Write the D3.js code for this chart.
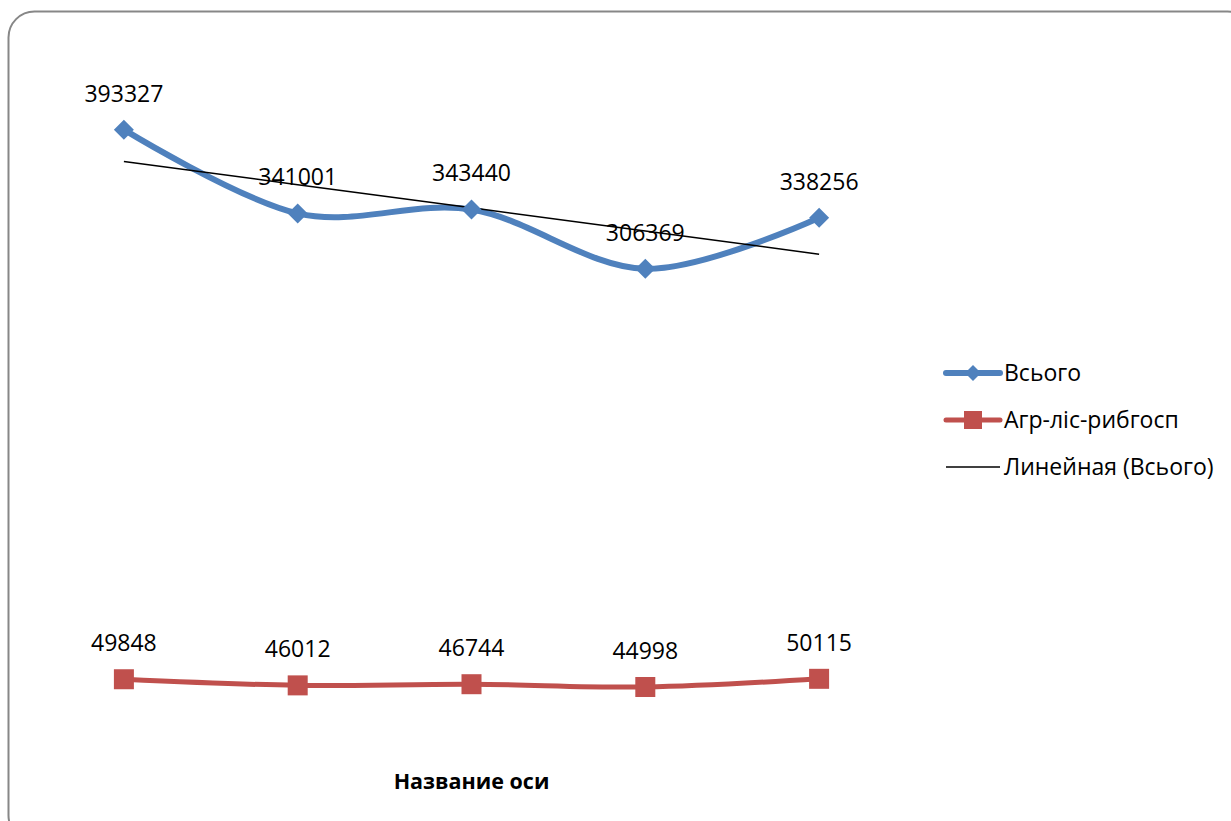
<!DOCTYPE html>
<html>
<head>
<meta charset="utf-8">
<script src="https://cdn.jsdelivr.net/npm/d3@7"></script>
<style>
  body { margin: 0; background: #fff; }
  svg { display: block; font-family: "Open Sans", sans-serif; }
</style>
</head>
<body>
<svg width="1231" height="821"></svg>
<script>
  const categories = ['1', '2', '3', '4', '5'];
  const totalValues = [393327, 341001, 343440, 306369, 338256];
  const agroValues = [49848, 46012, 46744, 44998, 50115];
  const seriesNames = ['Всього', 'Агр-ліс-рибгосп', 'Линейная (Всього)'];
  const axisTitle = 'Название оси';

  const svg = d3.select('svg');
  const width = +svg.attr('width');
  const height = +svg.attr('height');

  // chart frame
  svg.append('rect')
    .attr('x', 8.5)
    .attr('y', 11.5)
    .attr('width', 1245)
    .attr('height', 830)
    .attr('rx', 26)
    .attr('fill', '#fff')
    .attr('stroke', '#878787')
    .attr('stroke-width', 2);

  const plot = { left: 37, right: 906, top: 119, bottom: 759 };

  const xScale = d3.scalePoint()
    .domain(categories)
    .range([plot.left, plot.right])
    .padding(0.5);

  const yScale = d3.scaleLinear()
    .domain([0, 400000])
    .range([plot.bottom, plot.top]);

  const g = svg.append('g');

  const smooth = d3.line()
    .x((d, i) => xScale(categories[i]))
    .y(d => yScale(d))
    .curve(d3.curveCardinal.tension(0));

  // linear trend for "Всього"
  const xs = totalValues.map((d, i) => i + 1);
  const meanX = d3.mean(xs);
  const meanY = d3.mean(totalValues);
  const slope = d3.sum(xs, (x, i) => (x - meanX) * (totalValues[i] - meanY)) /
    d3.sum(xs, x => (x - meanX) * (x - meanX));
  const intercept = meanY - slope * meanX;
  const trend = xs.map(x => intercept + slope * x);

  const series = [
    { name: seriesNames[0], values: totalValues, color: '#4F81BD', marker: 'diamond' },
    { name: seriesNames[1], values: agroValues, color: '#C0504D', marker: 'square' }
  ];

  series.forEach(s => {
    g.append('path')
      .attr('d', smooth(s.values))
      .attr('fill', 'none')
      .attr('stroke', s.color)
      .attr('stroke-width', s.marker === 'diamond' ? 6 : 5)
      .attr('stroke-linecap', 'round');
  });

  g.append('path')
    .attr('d', d3.line()
      .x((d, i) => xScale(categories[i]))
      .y(d => yScale(d))(trend))
    .attr('fill', 'none')
    .attr('stroke', '#000')
    .attr('stroke-width', 1.5);

  const drawMarker = (sel, type, color) => {
    if (type === 'diamond') {
      sel.append('path')
        .attr('d', 'M0,-10L10,0L0,10L-10,0Z')
        .attr('fill', color);
    } else {
      sel.append('rect')
        .attr('x', -10).attr('y', -10)
        .attr('width', 20).attr('height', 20)
        .attr('fill', color);
    }
  };

  series.forEach(s => {
    s.values.forEach((v, i) => {
      const m = g.append('g')
        .attr('transform', `translate(${xScale(categories[i])},${yScale(v)})`);
      drawMarker(m, s.marker, s.color);
    });
  });

  // data labels
  series.forEach(s => {
    g.selectAll(null).data(s.values)
      .enter().append('text')
        .attr('x', (d, i) => xScale(categories[i]))
        .attr('y', d => yScale(d) - 28)
        .attr('text-anchor', 'middle')
        .attr('font-size', 23)
        .attr('fill', '#000')
        .text(d => d);
  });

  // axis title
  svg.append('text')
    .attr('x', (plot.left + plot.right) / 2)
    .attr('y', 789)
    .attr('text-anchor', 'middle')
    .attr('font-size', 21.5)
    .attr('font-weight', 'bold')
    .text(axisTitle);

  // legend
  const legend = svg.append('g').attr('transform', 'translate(946,373)');
  const items = [
    { name: seriesNames[0], color: '#4F81BD', marker: 'diamond', w: 6 },
    { name: seriesNames[1], color: '#C0504D', marker: 'square', w: 5 },
    { name: seriesNames[2], color: '#000', marker: null, w: 1.5 }
  ];
  const li = legend.selectAll('g').data(items).enter().append('g')
    .attr('transform', (d, i) => `translate(0,${i * 47})`);
  li.append('line')
    .attr('x1', 0).attr('x2', 54)
    .attr('stroke', d => d.color)
    .attr('stroke-width', d => d.w)
    .attr('stroke-linecap', d => d.marker ? 'round' : 'butt');
  li.each(function (d) {
    if (d.marker === 'diamond') {
      d3.select(this).append('path')
        .attr('d', 'M0,-8L8,0L0,8L-8,0Z')
        .attr('transform', 'translate(27,0)')
        .attr('fill', d.color);
    } else if (d.marker === 'square') {
      d3.select(this).append('rect')
        .attr('x', 18).attr('y', -9)
        .attr('width', 18).attr('height', 18)
        .attr('fill', d.color);
    }
  });
  li.append('text')
    .attr('x', 58)
    .attr('y', 8)
    .attr('font-size', 23)
    .text(d => d.name);
</script>
</body>
</html>
